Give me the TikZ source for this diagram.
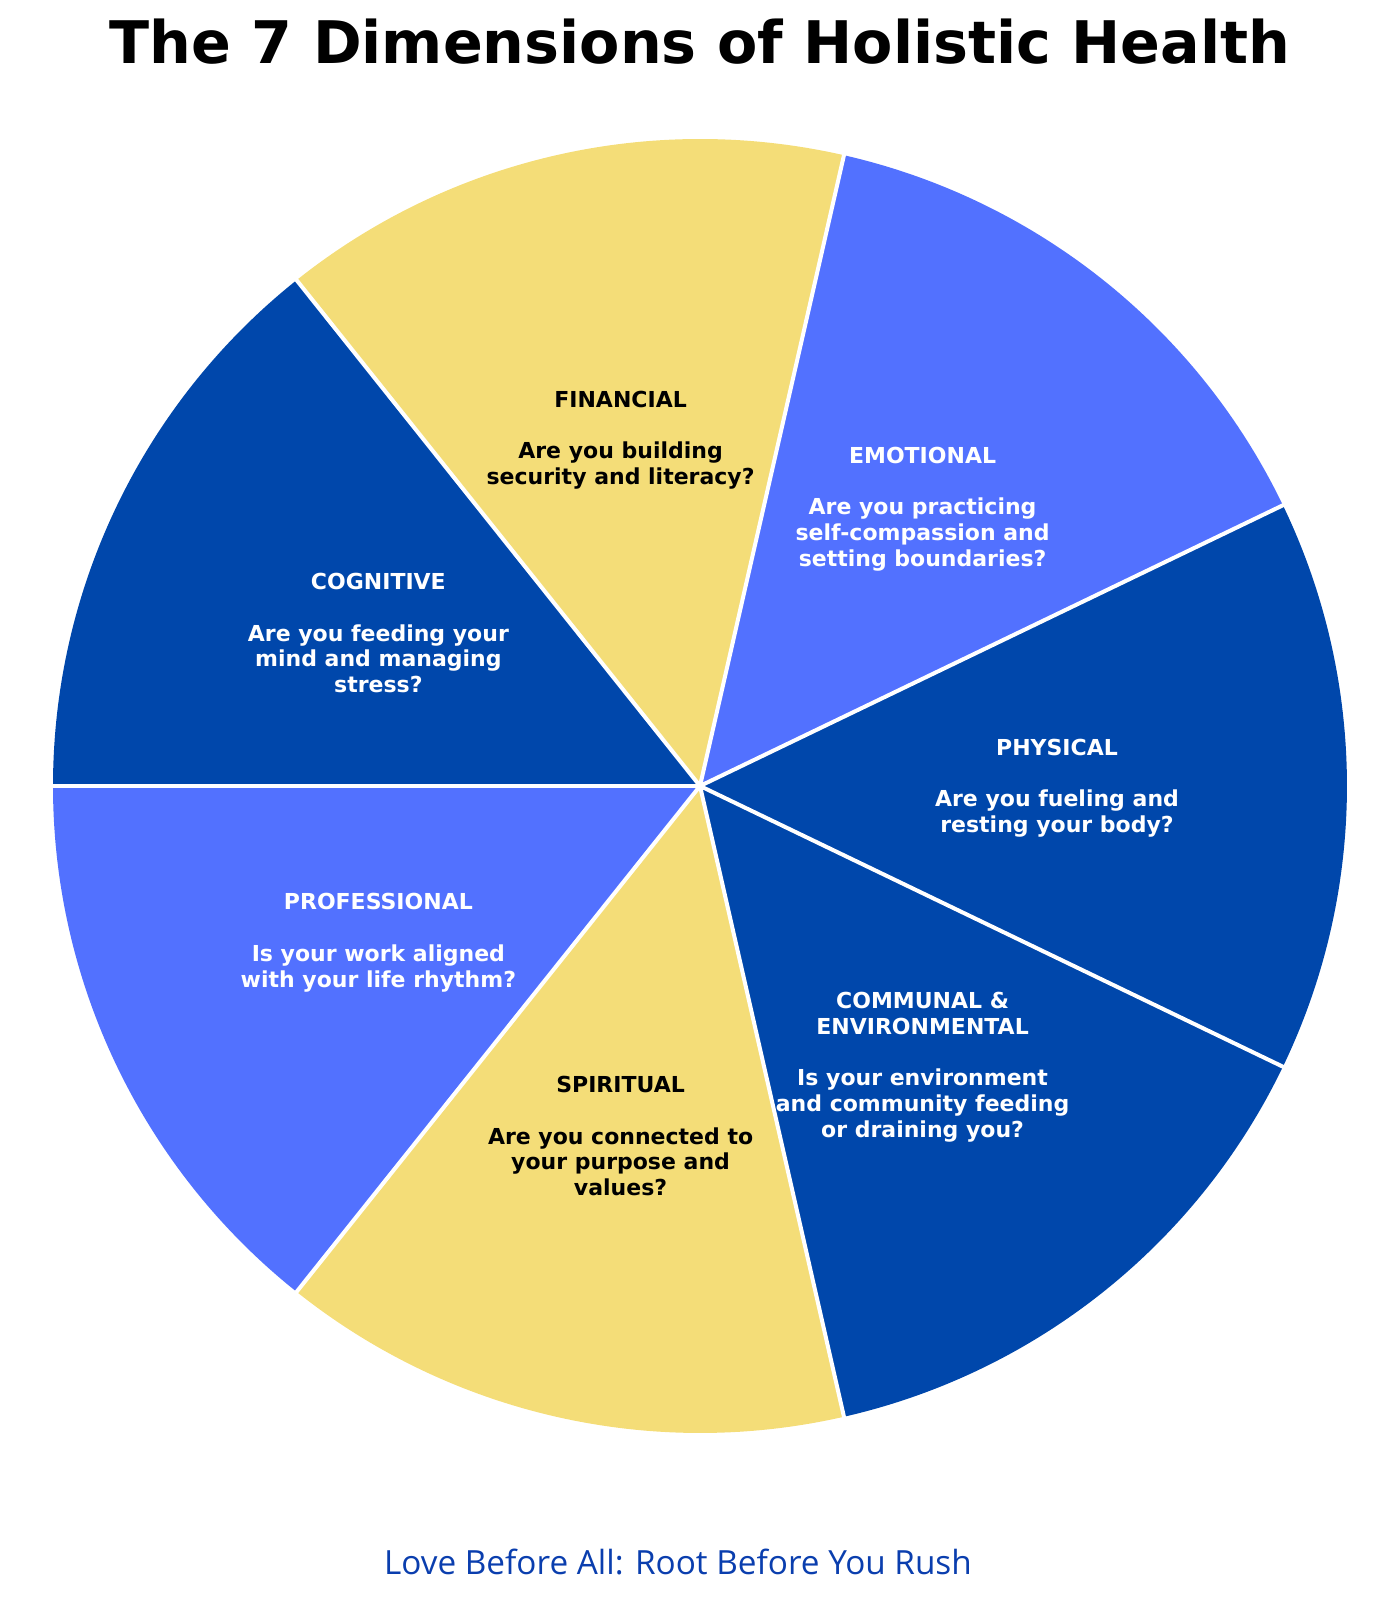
\documentclass[tikz,border=0pt]{standalone}
\usepackage{fontspec}
\usetikzlibrary{calc}
\setmainfont{DejaVu Sans}
\newfontfamily\tagfont{Open Sans}
\definecolor{dkblue}{HTML}{0047AB}
\definecolor{ltblue}{HTML}{5271FF}
\definecolor{ylw}{HTML}{F4DD78}
\definecolor{tagblue}{HTML}{0A3EAE}
\begin{document}
\begin{tikzpicture}[x=1pt,y=1pt,
  lbl/.style={font=\bfseries\fontsize{22}{25.8}\selectfont, align=center, inner sep=0pt, anchor=center, yshift=-2pt},
  sep/.style={draw=white, line width=4pt}]
\useasboundingbox (0,0) rectangle (1399,1600);
\def\R{647}
\def\L{357}
\coordinate (c) at (700,814);
% wedges
\fill[dkblue] (c) -- ++(180:\R) arc[start angle=180, end angle=128.571, radius=\R] -- cycle;
\fill[ylw] (c) -- ++(128.571:\R) arc[start angle=128.571, end angle=77.143, radius=\R] -- cycle;
\fill[ltblue] (c) -- ++(77.143:\R) arc[start angle=77.143, end angle=25.714, radius=\R] -- cycle;
\fill[dkblue] (c) -- ++(25.714:\R) arc[start angle=25.714, end angle=-25.714, radius=\R] -- cycle;
\fill[dkblue] (c) -- ++(-25.714:\R) arc[start angle=-25.714, end angle=-77.143, radius=\R] -- cycle;
\fill[ylw] (c) -- ++(-77.143:\R) arc[start angle=-77.143, end angle=-128.571, radius=\R] -- cycle;
\fill[ltblue] (c) -- ++(-128.571:\R) arc[start angle=-128.571, end angle=-180, radius=\R] -- cycle;
% separators
\foreach \a/\n in {180/b1,128.571/b2,77.143/b3,25.714/b4,-25.714/b5,-77.143/b6,-128.571/b7}{
  \coordinate (\n) at ($(c)+(\a:\R+2)$);
}
\foreach \n in {b1,b2,b3,b4,b5,b6,b7}{ \draw[sep] (c) -- (\n); }
% labels
\node[lbl, text=white] (cog) at ($(c)+(154.286:\L)$) {COGNITIVE\\[25.8pt]Are you feeding your\\mind and managing\\stress?};
\node[lbl, text=black] (fin) at ($(c)+(102.857:\L)$) {FINANCIAL\\[25.8pt]Are you building\\security and literacy?};
\node[lbl, text=white] (emo) at ($(c)+(51.429:\L)$) {EMOTIONAL\\[25.8pt]Are you practicing\\self-compassion and\\setting boundaries?};
\node[lbl, text=white] (phy) at ($(c)+(0:\L)$) {PHYSICAL\\[25.8pt]Are you fueling and\\resting your body?};
\node[lbl, text=white] (com) at ($(c)+(-51.429:\L)$) {COMMUNAL \&\\ENVIRONMENTAL\\[25.8pt]Is your environment\\and community feeding\\or draining you?};
\node[lbl, text=black] (spi) at ($(c)+(-102.857:\L)$) {SPIRITUAL\\[25.8pt]Are you connected to\\your purpose and\\values?};
\node[lbl, text=white] (pro) at ($(c)+(-154.286:\L)$) {PROFESSIONAL\\[25.8pt]Is your work aligned\\with your life rhythm?};
% title and tagline
\node[font=\bfseries\fontsize{58.7}{70}\selectfont, anchor=base, inner sep=0pt] (title) at (700,1536) {The 7 Dimensions of Holistic Health};
\node[font=\tagfont\fontsize{33.3}{38}\selectfont, text=tagblue, anchor=base, inner sep=0pt] (tag) at (678,25) {Love Before All: Root Before You Rush};
\end{tikzpicture}
\end{document}
